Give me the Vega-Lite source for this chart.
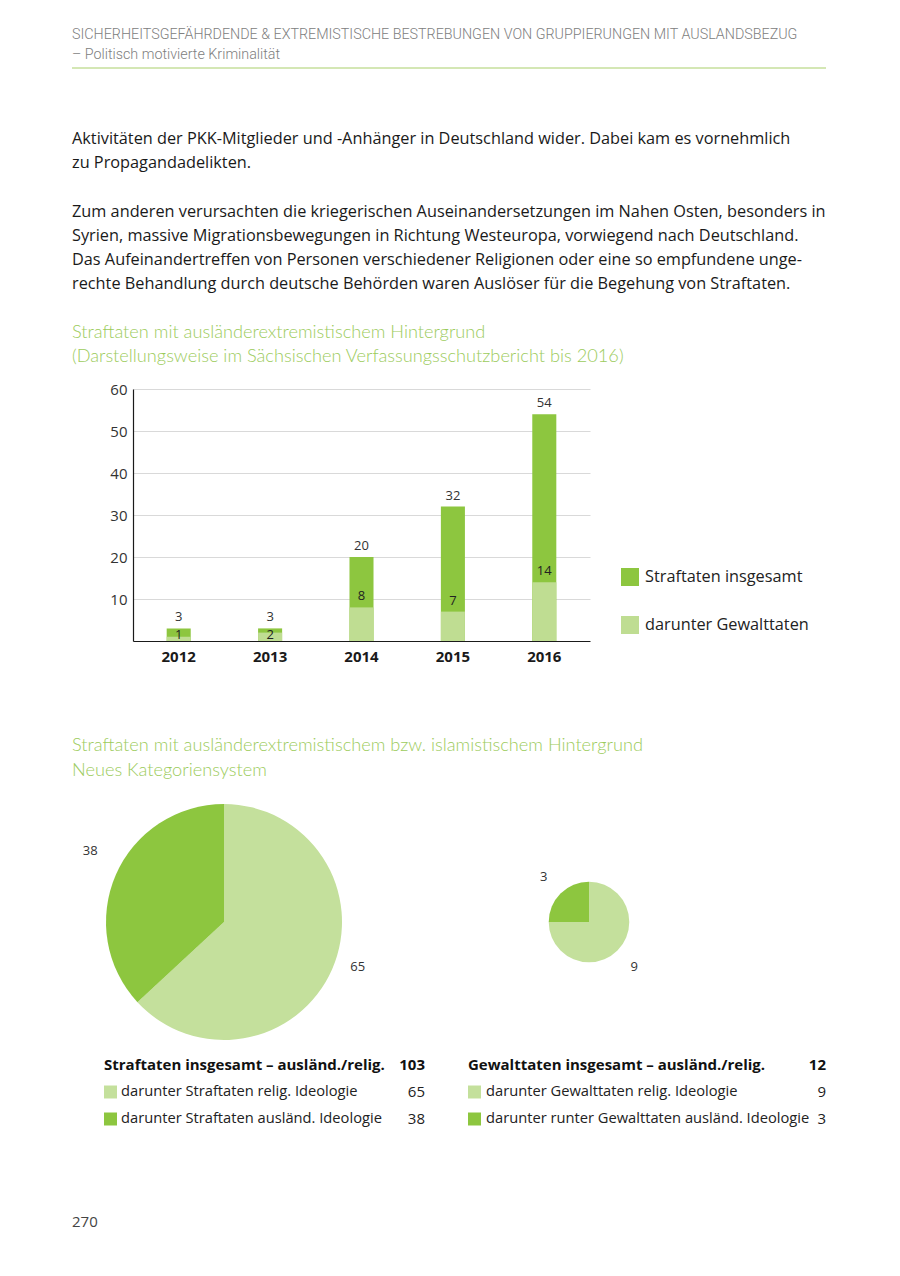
{
  "$schema": "https://vega.github.io/schema/vega-lite/v6.json",
  "width": 900,
  "height": 1276,
  "padding": 0,
  "autosize": {"type": "none"},
  "background": "white",
  "config": {
    "view": {"stroke": null},
    "font": "Open Sans",
    "axis": {"labelFont": "Open Sans"},
    "legend": {"labelFont": "Open Sans"}
  },
  "datasets": {
    "header": [
      {"line": 1, "text": "SICHERHEITSGEFÄHRDENDE & EXTREMISTISCHE BESTREBUNGEN VON GRUPPIERUNGEN MIT AUSLANDSBEZUG"},
      {"line": 2, "text": "– Politisch motivierte Kriminalität"}
    ],
    "body": [
      {"line": 0, "text": "Aktivitäten der PKK-Mitglieder und -Anhänger in Deutschland wider. Dabei kam es vornehmlich"},
      {"line": 1, "text": "zu Propagandadelikten."},
      {"line": 3, "text": "Zum anderen verursachten die kriegerischen Auseinandersetzungen im Nahen Osten, besonders in"},
      {"line": 4, "text": "Syrien, massive Migrationsbewegungen in Richtung Westeuropa, vorwiegend nach Deutschland."},
      {"line": 5, "text": "Das Aufeinandertreffen von Personen verschiedener Religionen oder eine so empfundene unge-"},
      {"line": 6, "text": "rechte Behandlung durch deutsche Behörden waren Auslöser für die Begehung von Straftaten."}
    ],
    "bartitle": [
      {"line": 1, "text": "Straftaten mit ausländerextremistischem Hintergrund"},
      {"line": 2, "text": "(Darstellungsweise im Sächsischen Verfassungsschutzbericht bis 2016)"}
    ],
    "pietitle": [
      {"line": 1, "text": "Straftaten mit ausländerextremistischem bzw. islamistischem Hintergrund"},
      {"line": 2, "text": "Neues Kategoriensystem"}
    ],
    "page": [{"text": "270"}],
    "bars": [
      {"year": "2012", "series": "Straftaten insgesamt", "value": 3},
      {"year": "2013", "series": "Straftaten insgesamt", "value": 3},
      {"year": "2014", "series": "Straftaten insgesamt", "value": 20},
      {"year": "2015", "series": "Straftaten insgesamt", "value": 32},
      {"year": "2016", "series": "Straftaten insgesamt", "value": 54},
      {"year": "2012", "series": "darunter Gewalttaten", "value": 1},
      {"year": "2013", "series": "darunter Gewalttaten", "value": 2},
      {"year": "2014", "series": "darunter Gewalttaten", "value": 8},
      {"year": "2015", "series": "darunter Gewalttaten", "value": 7},
      {"year": "2016", "series": "darunter Gewalttaten", "value": 14}
    ],
    "pie": [
      {"chart": "Straftaten", "type": "relig", "label": "darunter Straftaten relig. Ideologie", "value": 65},
      {"chart": "Straftaten", "type": "ausl", "label": "darunter Straftaten ausländ. Ideologie", "value": 38},
      {"chart": "Gewalttaten", "type": "relig", "label": "darunter Gewalttaten relig. Ideologie", "value": 9},
      {"chart": "Gewalttaten", "type": "ausl", "label": "darunter runter Gewalttaten ausländ. Ideologie", "value": 3}
    ],
    "totals": [
      {"chart": "Straftaten", "label": "Straftaten insgesamt – ausländ./relig.", "value": 103},
      {"chart": "Gewalttaten", "label": "Gewalttaten insgesamt – ausländ./relig.", "value": 12}
    ]
  },
  "resolve": {
    "scale": {"x": "independent", "y": "independent", "color": "independent", "theta": "independent", "radius": "independent"},
    "axis": {"x": "independent", "y": "independent"},
    "legend": {"color": "independent"}
  },
  "layer": [
    {
      "data": {"name": "bars"},
      "encoding": {
        "x": {
          "field": "year", "type": "ordinal",
          "scale": {"type": "band", "range": [133, 590], "paddingInner": 0.737, "paddingOuter": 0.3685},
          "axis": {"orient": "bottom", "offset": -635, "title": null, "labelAngle": 0, "labelFontWeight": "bold", "labelFontSize": 15, "labelColor": "#1a1a1a", "labelPadding": 8, "ticks": false, "domainColor": "#1a1a1a", "domainWidth": 1.2, "grid": false}
        },
        "y": {
          "field": "value", "type": "quantitative", "stack": null,
          "scale": {"domain": [0, 60], "range": [641, 389], "nice": false, "zero": true},
          "axis": {"orient": "left", "offset": -133, "title": null, "values": [10, 20, 30, 40, 50, 60], "labelFontSize": 15, "labelColor": "#333333", "labelPadding": 6, "ticks": false, "domainColor": "#1a1a1a", "domainWidth": 1.2, "grid": true, "gridColor": "#d9d9d9", "gridWidth": 1, "labelFlush": false, "labelOverlap": false}
        }
      },
      "layer": [
        {
          "mark": {"type": "bar"},
          "encoding": {
            "color": {
              "field": "series", "type": "nominal",
              "scale": {"domain": ["Straftaten insgesamt", "darunter Gewalttaten"], "range": ["#8dc63f", "#bfdd92"]},
              "legend": {"orient": "none", "legendX": 621, "legendY": 568, "title": null, "symbolType": "square", "symbolSize": 324, "symbolStrokeWidth": 0, "symbolOpacity": 1, "labelFontSize": 16.3, "labelColor": "#222222", "labelOffset": 6, "rowPadding": 30, "padding": 0, "labelLimit": 300}
            }
          }
        },
        {
          "transform": [{"filter": "datum.series === 'Straftaten insgesamt'"}],
          "mark": {"type": "text", "baseline": "bottom", "dy": -4, "fontSize": 13, "color": "#333333"},
          "encoding": {"text": {"field": "value", "type": "quantitative"}}
        },
        {
          "transform": [{"filter": "datum.series === 'darunter Gewalttaten' && datum.value >= 5"}],
          "mark": {"type": "text", "baseline": "bottom", "dy": -4, "fontSize": 13, "color": "#222222"},
          "encoding": {"text": {"field": "value", "type": "quantitative"}}
        },
        {
          "transform": [{"filter": "datum.series === 'darunter Gewalttaten' && datum.value < 5"}],
          "mark": {"type": "text", "baseline": "middle", "dy": -6, "fontSize": 13, "color": "#222222"},
          "encoding": {"y": {"datum": 0, "type": "quantitative"}, "text": {"field": "value", "type": "quantitative"}}
        }
      ]
    },
    {
      "data": {"name": "header"},
      "mark": {"type": "text", "align": "left", "baseline": "middle", "font": "Roboto", "fontWeight": 300, "fontSize": 14.3, "color": "#808080"},
      "encoding": {
        "x": {"datum": 0, "type": "quantitative", "scale": {"domain": [0, 1], "range": [72, 826]}, "axis": null},
        "y": {"field": "line", "type": "quantitative", "scale": {"domain": [1, 2], "range": [35, 55], "zero": false, "nice": false}, "axis": null},
        "text": {"field": "text"}
      }
    },
    {
      "data": {"values": [{"id": "header-rule"}]},
      "mark": {"type": "rule", "color": "#a9cf6a", "strokeWidth": 1},
      "encoding": {
        "x": {"datum": 0, "type": "quantitative", "scale": {"domain": [0, 1], "range": [72, 826]}, "axis": null},
        "x2": {"datum": 1},
        "y": {"datum": 0, "type": "quantitative", "scale": {"domain": [0, 1], "range": [68, 100], "zero": false, "nice": false}, "axis": null}
      }
    },
    {
      "data": {"name": "body"},
      "mark": {"type": "text", "align": "left", "baseline": "middle", "font": "Open Sans", "fontSize": 16.3, "color": "#1a1a1a"},
      "encoding": {
        "x": {"datum": 0, "type": "quantitative", "scale": {"domain": [0, 1], "range": [72, 826]}, "axis": null},
        "y": {"field": "line", "type": "quantitative", "scale": {"domain": [0, 6], "range": [139, 284], "zero": false, "nice": false}, "axis": null},
        "text": {"field": "text"}
      }
    },
    {
      "data": {"name": "bartitle"},
      "mark": {"type": "text", "align": "left", "baseline": "middle", "font": "Lato", "fontWeight": 300, "fontSize": 18.2, "color": "#9ccb5c"},
      "encoding": {
        "x": {"datum": 0, "type": "quantitative", "scale": {"domain": [0, 1], "range": [72, 826]}, "axis": null},
        "y": {"field": "line", "type": "quantitative", "scale": {"domain": [1, 2], "range": [333, 357], "zero": false, "nice": false}, "axis": null},
        "text": {"field": "text"}
      }
    },
    {
      "data": {"name": "pietitle"},
      "mark": {"type": "text", "align": "left", "baseline": "middle", "font": "Lato", "fontWeight": 300, "fontSize": 18.2, "color": "#9ccb5c"},
      "encoding": {
        "x": {"datum": 0, "type": "quantitative", "scale": {"domain": [0, 1], "range": [72, 826]}, "axis": null},
        "y": {"field": "line", "type": "quantitative", "scale": {"domain": [1, 2], "range": [746, 771], "zero": false, "nice": false}, "axis": null},
        "text": {"field": "text"}
      }
    },
    {
      "data": {"name": "page"},
      "mark": {"type": "text", "align": "left", "baseline": "middle", "font": "Open Sans", "fontSize": 15, "color": "#444444"},
      "encoding": {
        "x": {"datum": 0, "type": "quantitative", "scale": {"domain": [0, 1], "range": [72, 826]}, "axis": null},
        "y": {"datum": 0, "type": "quantitative", "scale": {"domain": [0, 1], "range": [1222, 1300], "zero": false, "nice": false}, "axis": null},
        "text": {"field": "text"}
      }
    },
    {
      "data": {"name": "pie"},
      "transform": [
        {"filter": "datum.chart === 'Straftaten'"},
        {"joinaggregate": [{"op": "sum", "field": "value", "as": "total"}], "groupby": ["chart"]}
      ],
      "encoding": {
        "x": {"field": "chart", "type": "nominal", "scale": {"type": "point", "domain": ["Straftaten", "Gewalttaten"], "range": [224, 589], "padding": 0}, "axis": null},
        "y": {"field": "chart", "type": "nominal", "scale": {"type": "point", "domain": ["Straftaten", "Gewalttaten"], "range": [922, 922], "padding": 0}, "axis": null},
        "theta": {"field": "value", "type": "quantitative", "stack": true},
        "order": {"field": "type", "sort": "descending"}
      },
      "layer": [
        {
          "mark": {"type": "arc"},
          "encoding": {
            "radius": {"field": "total", "type": "quantitative", "scale": {"type": "sqrt", "zero": true, "domain": [0, 103], "range": [0, 118]}, "legend": null},
            "color": {"field": "type", "type": "nominal", "scale": {"domain": ["relig", "ausl"], "range": ["#c4e09c", "#8dc63f"]}, "legend": null}
          }
        },
        {
          "mark": {"type": "text", "radius": 146, "dy": -13, "fontSize": 13, "color": "#333333"},
          "encoding": {"text": {"field": "value", "type": "quantitative"}}
        }
      ]
    },
    {
      "data": {"name": "pie"},
      "transform": [
        {"filter": "datum.chart === 'Gewalttaten'"},
        {"joinaggregate": [{"op": "sum", "field": "value", "as": "total"}], "groupby": ["chart"]}
      ],
      "encoding": {
        "x": {"field": "chart", "type": "nominal", "scale": {"type": "point", "domain": ["Straftaten", "Gewalttaten"], "range": [224, 589], "padding": 0}, "axis": null},
        "y": {"field": "chart", "type": "nominal", "scale": {"type": "point", "domain": ["Straftaten", "Gewalttaten"], "range": [922, 922], "padding": 0}, "axis": null},
        "theta": {"field": "value", "type": "quantitative", "stack": true},
        "order": {"field": "type", "sort": "descending"}
      },
      "layer": [
        {
          "mark": {"type": "arc"},
          "encoding": {
            "radius": {"field": "total", "type": "quantitative", "scale": {"type": "sqrt", "zero": true, "domain": [0, 103], "range": [0, 118]}, "legend": null},
            "color": {"field": "type", "type": "nominal", "scale": {"domain": ["relig", "ausl"], "range": ["#c4e09c", "#8dc63f"]}, "legend": null}
          }
        },
        {
          "mark": {"type": "text", "radius": 64, "fontSize": 13, "color": "#333333"},
          "encoding": {"text": {"field": "value", "type": "quantitative"}}
        }
      ]
    },
    {
      "data": {"name": "totals"},
      "mark": {"type": "text", "align": "left", "baseline": "middle", "font": "Open Sans", "fontWeight": "bold", "fontSize": 15, "color": "#111111"},
      "encoding": {
        "x": {"field": "chart", "type": "nominal", "scale": {"type": "point", "domain": ["Straftaten", "Gewalttaten"], "range": [104, 468], "padding": 0}, "axis": null},
        "y": {"datum": "gesamt", "type": "nominal", "scale": {"type": "point", "domain": ["gesamt", "relig", "ausl"], "range": [1065, 1119], "padding": 0}, "axis": null},
        "text": {"field": "label"}
      }
    },
    {
      "data": {"name": "totals"},
      "mark": {"type": "text", "align": "right", "baseline": "middle", "font": "Open Sans", "fontWeight": "bold", "fontSize": 15, "color": "#111111"},
      "encoding": {
        "x": {"field": "chart", "type": "nominal", "scale": {"type": "point", "domain": ["Straftaten", "Gewalttaten"], "range": [425, 826], "padding": 0}, "axis": null},
        "y": {"datum": "gesamt", "type": "nominal", "scale": {"type": "point", "domain": ["gesamt", "relig", "ausl"], "range": [1065, 1119], "padding": 0}, "axis": null},
        "text": {"field": "value", "type": "quantitative"}
      }
    },
    {
      "data": {"name": "pie"},
      "mark": {"type": "square", "size": 169, "opacity": 1, "filled": true},
      "encoding": {
        "x": {"field": "chart", "type": "nominal", "scale": {"type": "point", "domain": ["Straftaten", "Gewalttaten"], "range": [110.5, 474.5], "padding": 0}, "axis": null},
        "y": {"field": "type", "type": "nominal", "scale": {"type": "point", "domain": ["gesamt", "relig", "ausl"], "range": [1065, 1119], "padding": 0}, "axis": null},
        "color": {"field": "type", "type": "nominal", "scale": {"domain": ["relig", "ausl"], "range": ["#c4e09c", "#8dc63f"]}, "legend": null}
      }
    },
    {
      "data": {"name": "pie"},
      "mark": {"type": "text", "align": "left", "baseline": "middle", "font": "Open Sans", "fontSize": 14.7, "color": "#222222"},
      "encoding": {
        "x": {"field": "chart", "type": "nominal", "scale": {"type": "point", "domain": ["Straftaten", "Gewalttaten"], "range": [121, 486], "padding": 0}, "axis": null},
        "y": {"field": "type", "type": "nominal", "scale": {"type": "point", "domain": ["gesamt", "relig", "ausl"], "range": [1065, 1119], "padding": 0}, "axis": null},
        "text": {"field": "label"}
      }
    },
    {
      "data": {"name": "pie"},
      "mark": {"type": "text", "align": "right", "baseline": "middle", "font": "Open Sans", "fontSize": 15, "color": "#222222"},
      "encoding": {
        "x": {"field": "chart", "type": "nominal", "scale": {"type": "point", "domain": ["Straftaten", "Gewalttaten"], "range": [425, 826], "padding": 0}, "axis": null},
        "y": {"field": "type", "type": "nominal", "scale": {"type": "point", "domain": ["gesamt", "relig", "ausl"], "range": [1065, 1119], "padding": 0}, "axis": null},
        "text": {"field": "value", "type": "quantitative"}
      }
    }
  ]
}
